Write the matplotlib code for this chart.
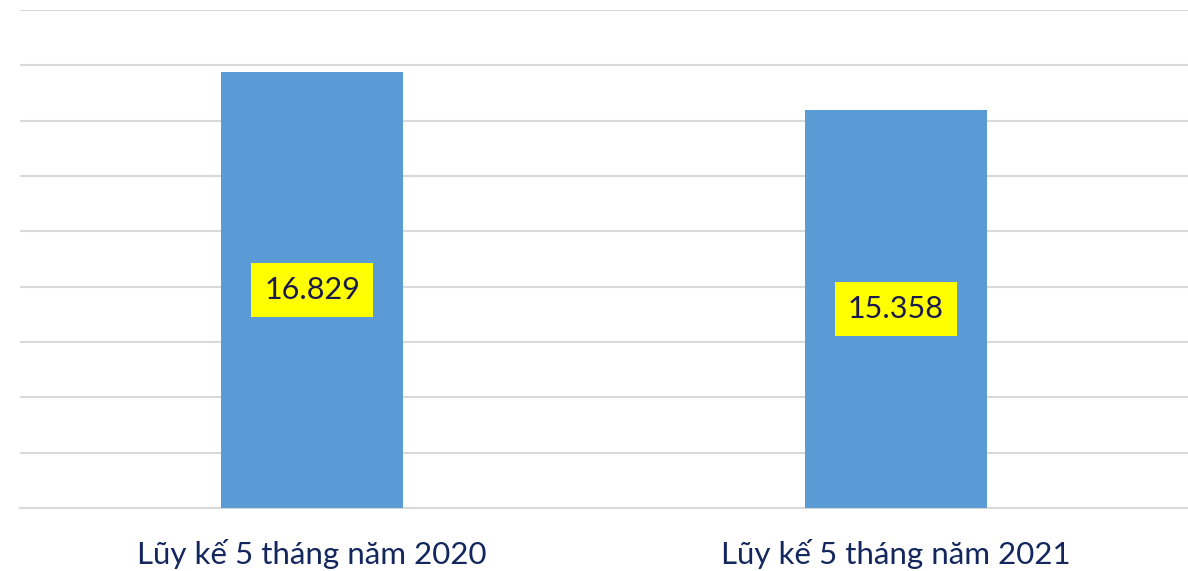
import matplotlib
matplotlib.use("Agg")
import matplotlib.pyplot as plt
from matplotlib.ticker import LinearLocator

categories = ["Lũy kế 5 tháng năm 2020", "Lũy kế 5 tháng năm 2021"]
values = [16.829, 15.358]
labels = ["16.829", "15.358"]

plt.rcParams['font.family'] = ['Lato', 'DejaVu Sans']

fig = plt.figure(figsize=(11.88, 5.71), dpi=100)
ax = fig.add_axes([0.017, 0.110, 0.983, 0.8725])

x = list(range(len(categories)))
bars = ax.bar(x, values, width=0.312, color="#5B9BD5", zorder=3)
for b, lab in zip(bars, labels):
    ax.text(b.get_x() + b.get_width() / 2, b.get_height() / 2, lab,
            ha="center", va="center", fontsize=22, color="#1A1A4E", zorder=4,
            bbox=dict(boxstyle="square,pad=0.42", facecolor="#FFFF00", edgecolor="none"))

ax.set_xlim(-0.5, 1.5)
ax.set_ylim(0, 19.2)
ax.yaxis.set_major_locator(LinearLocator(10))
ax.grid(axis="y", color="#D9D9D9", linewidth=1.5, zorder=0)
ax.set_yticklabels([])
ax.tick_params(axis="y", length=0)
ax.tick_params(axis="x", length=0, pad=22)
ax.set_xticks(x)
ax.set_xticklabels(categories, fontsize=22.5, color="#13275E")
for s in ["top", "right", "left"]:
    ax.spines[s].set_visible(False)
ax.spines["bottom"].set_color("#D9D9D9")
ax.spines["bottom"].set_linewidth(1.5)

fig.savefig("out.png", dpi=100)
